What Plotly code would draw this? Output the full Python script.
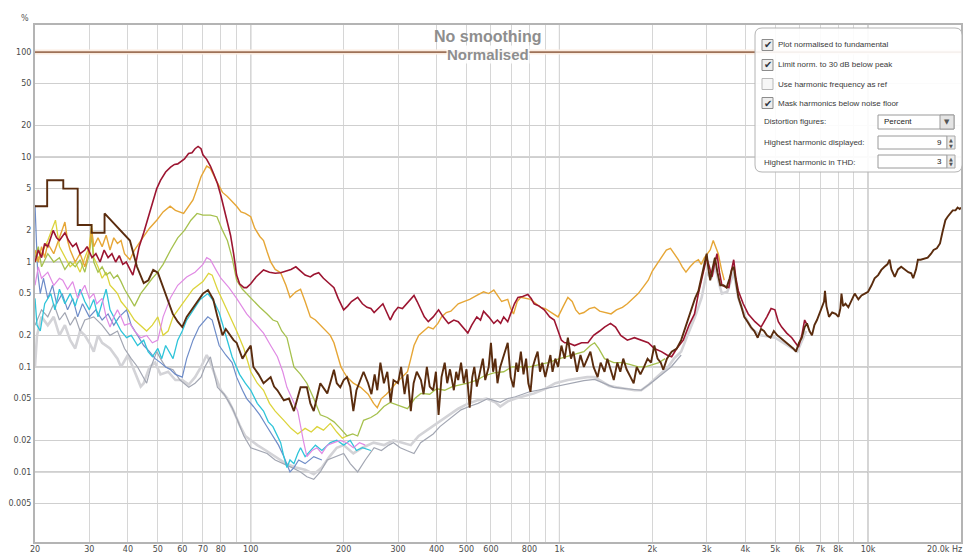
import math
import plotly.graph_objects as go

# ---------------- data (frequency Hz, distortion %) ----------------
fundamental = [(20, 100), (20000, 100)]

thd = [(20, 3.4), (21.9, 3.4), (21.9, 6.0), (24.7, 6.0), (24.7, 5.0), (27.5, 5.0), (27.5, 2.25), (30.5, 2.25),
       (30.5, 1.9), (33.6, 1.9), (33.6, 2.9), (36.9, 2.15), (40.6, 1.6), (42.8, 0.9), (45, 0.63), (46.6, 0.67),
       (48.3, 0.84), (50, 0.79), (51.4, 0.63), (53.5, 0.46), (55.9, 0.32), (58, 0.27), (60, 0.24), (62, 0.3),
       (65, 0.37), (68, 0.45), (70, 0.5), (72.7, 0.54), (75.6, 0.44), (78, 0.3), (81, 0.2), (83, 0.23),
       (85, 0.21), (88, 0.18), (90, 0.17), (94, 0.12), (97, 0.14), (100, 0.16), (102, 0.1), (106, 0.085),
       (110, 0.07), (116, 0.08), (119, 0.065), (122, 0.06), (128, 0.048), (133, 0.05), (138, 0.038),
       (145, 0.064), (152, 0.064), (156, 0.045), (160, 0.038), (168, 0.07), (177, 0.056), (186, 0.094),
       (190, 0.07), (195, 0.064), (200, 0.075), (205, 0.08), (210, 0.065), (215, 0.038), (220, 0.06),
       (227, 0.075), (232, 0.09), (240, 0.07), (246, 0.055), (252, 0.085), (257, 0.06), (263, 0.11),
       (270, 0.07), (277, 0.09), (284, 0.046), (290, 0.075), (300, 0.07), (307, 0.1), (315, 0.055),
       (322, 0.085), (330, 0.038), (337, 0.07), (345, 0.09), (356, 0.075), (363, 0.055), (372, 0.1),
       (380, 0.065), (390, 0.06), (398, 0.09), (406, 0.035), (415, 0.08), (425, 0.11), (433, 0.07),
       (442, 0.095), (455, 0.06), (463, 0.09), (470, 0.075), (480, 0.11), (490, 0.07), (500, 0.095),
       (512, 0.041), (522, 0.08), (530, 0.1), (540, 0.065), (555, 0.094), (565, 0.12), (575, 0.075),
       (590, 0.1), (600, 0.17), (610, 0.09), (620, 0.12), (630, 0.07), (643, 0.1), (660, 0.13), (680, 0.17),
       (695, 0.08), (710, 0.064), (725, 0.11), (735, 0.09), (750, 0.14), (765, 0.085), (780, 0.12),
       (793, 0.07), (806, 0.058), (820, 0.1), (835, 0.12), (850, 0.14), (865, 0.09), (880, 0.11), (900, 0.08),
       (915, 0.1), (935, 0.13), (950, 0.09), (970, 0.12), (990, 0.1), (1015, 0.16), (1040, 0.12),
       (1065, 0.19), (1090, 0.12), (1110, 0.14), (1140, 0.09), (1170, 0.13), (1200, 0.1), (1230, 0.12),
       (1260, 0.14), (1290, 0.1), (1330, 0.08), (1360, 0.11), (1400, 0.09), (1430, 0.12), (1460, 0.1),
       (1500, 0.075), (1540, 0.11), (1575, 0.09), (1610, 0.12), (1650, 0.095), (1700, 0.08), (1740, 0.07),
       (1780, 0.1), (1830, 0.085), (1880, 0.1), (1930, 0.12), (1980, 0.11), (2030, 0.16), (2080, 0.12),
       (2130, 0.11), (2170, 0.094), (2230, 0.12), (2310, 0.14), (2400, 0.15), (2480, 0.18), (2570, 0.25),
       (2670, 0.35), (2750, 0.45), (2820, 0.53), (2880, 0.7), (2930, 0.84), (2970, 1.0), (3000, 1.2),
       (3040, 0.85), (3080, 0.67), (3130, 0.85), (3190, 1.1), (3250, 0.8), (3320, 0.6), (3400, 0.6),
       (3480, 0.57), (3560, 0.7), (3620, 0.85), (3670, 0.9), (3730, 0.65), (3800, 0.46), (3880, 0.38),
       (3970, 0.3), (4070, 0.27), (4170, 0.24), (4280, 0.22), (4390, 0.19), (4500, 0.23), (4600, 0.22),
       (4700, 0.2), (4830, 0.19), (4950, 0.22), (5080, 0.2), (5200, 0.19), (5320, 0.18), (5460, 0.17),
       (5600, 0.16), (5720, 0.15), (5840, 0.14), (5970, 0.17), (6100, 0.19), (6230, 0.24), (6340, 0.26),
       (6460, 0.22), (6580, 0.2), (6700, 0.25), (6830, 0.28), (6950, 0.32), (7080, 0.37), (7200, 0.42),
       (7250, 0.53), (7330, 0.38), (7470, 0.3), (7650, 0.33), (7850, 0.32), (8020, 0.3), (8130, 0.36),
       (8200, 0.5), (8300, 0.38), (8450, 0.4), (8630, 0.37), (8800, 0.42), (9050, 0.5), (9300, 0.44),
       (9520, 0.48), (9760, 0.5), (10000, 0.52), (10260, 0.6), (10500, 0.7), (10780, 0.75), (11040, 0.84),
       (11300, 0.9), (11550, 0.95), (11740, 1.05), (11900, 0.85), (12200, 0.72), (12500, 0.85), (12800, 0.9),
       (13150, 0.84), (13500, 0.8), (13800, 0.78), (14000, 0.7), (14300, 0.85), (14500, 1.05), (14800, 1.05),
       (15200, 1.08), (15600, 1.1), (16000, 1.2), (16300, 1.3), (16700, 1.35), (17100, 1.5), (17400, 1.9),
       (17800, 2.5), (18100, 2.7), (18400, 2.9), (18800, 3.1), (19200, 3.1), (19500, 3.3), (19800, 3.2),
       (20000, 3.3)]

h2 = [(20, 1.0), (20.5, 1.3), (21, 1.1), (21.5, 1.5), (22, 1.4), (22.9, 2.0), (23.5, 1.7), (24, 1.6), (25, 1.9),
      (25.7, 1.6), (26.5, 1.4), (27.2, 1.5), (28, 1.2), (29, 1.3), (29.5, 1.4), (30.6, 1.1), (31.5, 1.2),
      (32.5, 1.0), (33.5, 1.3), (34.5, 1.1), (35.5, 1.2), (36.5, 1.0), (37.5, 1.15), (38.5, 0.95), (39.5, 1.0),
      (40.5, 0.85), (41.5, 0.75), (42.5, 1.0), (43.5, 1.4), (45, 1.9), (47, 3.0), (49.6, 5.0), (51, 6.0),
      (53, 7.2), (55, 8.0), (56.6, 8.5), (58, 8.6), (59.7, 9.2), (61, 9.6), (62.9, 10.8), (64.5, 11.0),
      (66, 12.0), (67.5, 12.6), (69, 12.0), (70, 10.5), (72, 9.5), (74, 8.2), (75.7, 7.0), (78, 5.6),
      (80, 4.3), (82, 3.2), (84, 2.4), (86, 1.8), (88, 1.2), (90, 0.75), (92, 0.62), (95, 0.57), (97, 0.57),
      (100, 0.62), (104, 0.72), (108, 0.8), (110, 0.84), (115, 0.8), (120, 0.78), (125, 0.79), (130, 0.82),
      (135, 0.85), (140, 0.9), (145, 0.82), (150, 0.75), (156, 0.72), (160, 0.76), (166, 0.79), (172, 0.7),
      (180, 0.62), (186, 0.57), (192, 0.45), (200, 0.35), (206, 0.38), (212, 0.42), (222, 0.46), (230, 0.4),
      (238, 0.37), (245, 0.36), (251, 0.33), (260, 0.37), (268, 0.4), (276, 0.33), (283, 0.28), (291, 0.33),
      (300, 0.37), (310, 0.36), (320, 0.4), (330, 0.44), (338, 0.48), (346, 0.42), (355, 0.36), (365, 0.3),
      (376, 0.27), (390, 0.3), (406, 0.35), (420, 0.3), (437, 0.26), (455, 0.28), (470, 0.27), (487, 0.24),
      (505, 0.21), (520, 0.25), (540, 0.3), (555, 0.28), (568, 0.34), (590, 0.3), (613, 0.26), (630, 0.28),
      (645, 0.26), (660, 0.3), (680, 0.27), (700, 0.34), (715, 0.4), (734, 0.46), (760, 0.47), (790, 0.49),
      (810, 0.45), (828, 0.4), (860, 0.38), (893, 0.35), (930, 0.3), (962, 0.28), (990, 0.22), (1015, 0.18),
      (1040, 0.17), (1065, 0.17), (1120, 0.16), (1180, 0.17), (1237, 0.17), (1290, 0.2), (1350, 0.22),
      (1400, 0.24), (1464, 0.26), (1520, 0.24), (1580, 0.2), (1660, 0.18), (1750, 0.19), (1840, 0.18),
      (1940, 0.17), (2030, 0.15), (2140, 0.14), (2230, 0.13), (2310, 0.125), (2400, 0.15), (2520, 0.18),
      (2630, 0.25), (2740, 0.32), (2820, 0.5), (2890, 0.67), (2950, 0.9), (3000, 1.1), (3060, 0.9),
      (3120, 0.72), (3180, 0.95), (3240, 1.2), (3300, 0.8), (3360, 0.6), (3450, 0.58), (3540, 0.57),
      (3600, 0.8), (3670, 1.05), (3730, 0.7), (3800, 0.53), (3940, 0.4), (4090, 0.32), (4300, 0.27),
      (4500, 0.24), (4700, 0.3), (4850, 0.36), (4990, 0.35), (5120, 0.27), (5250, 0.24), (5450, 0.21),
      (5660, 0.19), (5950, 0.155), (6100, 0.2), (6230, 0.28), (6400, 0.24)]

h3 = [(20, 1.3), (20.5, 1.0), (21, 1.4), (21.5, 1.1), (22, 1.5), (23, 1.2), (24, 1.7), (25, 2.4), (25.5, 1.6),
      (26, 1.3), (27, 1.0), (28, 1.2), (29, 0.9), (30, 1.3), (30.5, 2.1), (31, 1.4), (32, 1.7), (33, 1.4),
      (34, 1.8), (35, 1.3), (36, 1.7), (37, 1.5), (38, 1.6), (39, 1.2), (40.6, 1.05), (42, 1.3), (45, 1.75),
      (47, 2.1), (49.6, 2.5), (52, 3.0), (54.8, 3.4), (57, 3.1), (60.6, 2.9), (63, 3.4), (65, 3.9), (67, 5.0),
      (69, 6.5), (72, 8.2), (74, 7.8), (77.7, 5.8), (81, 4.6), (84, 4.2), (87, 3.8), (90, 3.4), (93, 3.0),
      (96, 2.9), (100, 2.7), (103, 2.1), (107, 1.75), (110, 1.6), (113, 1.25), (116, 1.0), (120, 0.85),
      (125, 0.79), (130, 0.6), (134, 0.46), (140, 0.52), (145, 0.55), (150, 0.42), (156, 0.3), (162, 0.28),
      (168, 0.25), (175, 0.22), (181, 0.2), (186, 0.17), (190, 0.14), (196, 0.1), (200, 0.09), (205, 0.08),
      (215, 0.07), (227, 0.064), (240, 0.055), (250, 0.045), (257, 0.041), (265, 0.05), (275, 0.055),
      (283, 0.06), (295, 0.07), (310, 0.08), (322, 0.09), (330, 0.12), (338, 0.16), (350, 0.2), (365, 0.22),
      (376, 0.24), (390, 0.23), (404, 0.26), (415, 0.3), (430, 0.33), (445, 0.34), (458, 0.37), (470, 0.4),
      (490, 0.42), (512, 0.44), (540, 0.48), (568, 0.52), (590, 0.5), (613, 0.54), (630, 0.48), (650, 0.42),
      (680, 0.44), (695, 0.36), (710, 0.32), (730, 0.42), (750, 0.46), (780, 0.45), (806, 0.44), (840, 0.4),
      (870, 0.37), (900, 0.36), (940, 0.33), (990, 0.3), (1030, 0.38), (1065, 0.46), (1100, 0.42),
      (1130, 0.35), (1160, 0.32), (1200, 0.33), (1250, 0.36), (1300, 0.37), (1350, 0.34), (1400, 0.33),
      (1470, 0.32), (1530, 0.35), (1600, 0.37), (1660, 0.4), (1730, 0.45), (1800, 0.5), (1870, 0.58),
      (1940, 0.67), (2000, 0.82), (2070, 0.95), (2140, 1.1), (2220, 1.3), (2290, 1.35), (2360, 1.2),
      (2430, 1.05), (2500, 0.9), (2570, 0.8), (2650, 0.9), (2740, 1.0), (2820, 1.05), (2880, 0.95),
      (2950, 1.1), (3020, 1.2), (3080, 1.3), (3150, 1.6), (3210, 1.4), (3270, 1.2), (3350, 0.85), (3420, 0.67)]

h4 = [(20, 1.1), (20.5, 1.4), (21, 0.9), (22, 1.2), (23, 1.0), (24, 1.1), (25, 0.85), (26, 1.0), (27, 0.9),
      (28, 1.05), (29, 0.8), (30, 1.2), (30.5, 1.8), (31, 1.0), (32, 0.8), (33, 0.9), (34, 0.75), (35, 0.8),
      (36, 0.7), (37, 0.75), (38, 0.65), (39, 0.55), (40.6, 0.45), (42, 0.38), (44, 0.5), (46, 0.6), (48, 0.7),
      (50, 0.8), (52, 0.95), (55, 1.3), (58, 1.7), (61, 2.0), (64, 2.5), (67, 2.9), (70, 2.8), (74, 2.8),
      (77.7, 2.7), (81, 2.0), (84, 1.6), (87, 1.1), (90, 0.67), (94, 0.55), (97, 0.5), (102, 0.42),
      (107, 0.37), (113, 0.32), (118, 0.28), (122, 0.27), (126, 0.22), (131, 0.19), (134, 0.14), (138, 0.1),
      (145, 0.085), (152, 0.07), (160, 0.05), (168, 0.035), (177, 0.033), (186, 0.03), (195, 0.026),
      (205, 0.022), (214, 0.023), (222, 0.022), (232, 0.031), (245, 0.033), (257, 0.036), (270, 0.042),
      (283, 0.046), (300, 0.043), (322, 0.04), (340, 0.05), (356, 0.056), (380, 0.055), (400, 0.062),
      (425, 0.06), (450, 0.065), (480, 0.068), (505, 0.07), (540, 0.075), (570, 0.082), (613, 0.088),
      (660, 0.09), (700, 0.1), (750, 0.1), (800, 0.1), (860, 0.105), (920, 0.11), (1000, 0.12), (1100, 0.13),
      (1200, 0.14), (1260, 0.16), (1300, 0.17), (1340, 0.15), (1400, 0.12), (1500, 0.11), (1600, 0.11),
      (1700, 0.105), (1800, 0.1), (1900, 0.1), (2000, 0.105), (2100, 0.11), (2200, 0.12)]

h5 = [(20, 0.6), (20.5, 0.9), (21, 0.7), (22, 0.8), (23, 0.6), (24, 0.7), (24.6, 0.67), (25.5, 0.55),
      (26.5, 0.65), (27.5, 0.45), (28, 0.5), (29, 0.6), (30, 0.45), (31, 0.5), (31.7, 0.4), (33, 0.45),
      (34, 0.3), (35, 0.24), (36, 0.3), (37, 0.35), (38, 0.3), (39, 0.25), (40.6, 0.26), (42, 0.22),
      (44, 0.19), (46, 0.2), (48, 0.17), (50, 0.18), (52, 0.3), (55, 0.46), (58, 0.6), (62, 0.72), (66, 0.8),
      (70, 0.95), (72, 1.1), (74, 1.05), (77, 0.85), (80, 0.7), (85, 0.57), (90, 0.45), (97, 0.32),
      (103, 0.26), (110, 0.21), (116, 0.16), (122, 0.125), (127, 0.09), (131, 0.064), (136, 0.05),
      (142, 0.038), (148, 0.02), (152, 0.014), (158, 0.016), (164, 0.017), (170, 0.015), (177, 0.018),
      (186, 0.019), (195, 0.02), (205, 0.019), (215, 0.017), (225, 0.019), (235, 0.018)]

h6 = [(20, 1.0), (21, 1.2), (22, 1.6), (23.3, 2.5), (24, 1.4), (25, 1.1), (26, 0.9), (27, 1.0), (28, 0.8),
      (29, 1.1), (30, 1.4), (30.5, 2.3), (31, 1.1), (32, 0.9), (33, 0.7), (34, 0.8), (35, 0.6), (36, 0.55),
      (37, 0.5), (38, 0.42), (40, 0.35), (42, 0.28), (44, 0.25), (46, 0.22), (48, 0.25), (50, 0.3), (52, 0.2),
      (54, 0.22), (56, 0.3), (60, 0.4), (65, 0.55), (70, 0.65), (73, 0.78), (75, 0.75), (78, 0.55), (82, 0.4),
      (86, 0.3), (90, 0.22), (95, 0.15), (100, 0.09), (105, 0.07), (110, 0.06), (115, 0.045), (120, 0.038),
      (128, 0.031), (135, 0.026), (142, 0.023), (150, 0.026), (157, 0.024), (164, 0.027), (172, 0.025),
      (181, 0.029), (190, 0.024), (198, 0.021), (205, 0.022)]

h7 = [(20, 0.45), (20.3, 0.25), (20.8, 0.22), (21.5, 0.4), (22.5, 0.5), (23.2, 0.35), (24, 0.55), (25, 0.4),
      (26, 0.5), (27, 0.38), (28, 0.55), (29, 0.42), (30, 0.35), (31, 0.44), (32, 0.3), (33, 0.4), (34, 0.55),
      (35, 0.35), (36, 0.3), (37, 0.25), (38, 0.22), (39.6, 0.19), (41, 0.2), (43, 0.16), (45, 0.18),
      (46.5, 0.14), (48, 0.125), (50, 0.15), (51.5, 0.12), (53, 0.16), (55, 0.13), (56, 0.12), (58, 0.18),
      (60, 0.22), (62, 0.28), (65, 0.35), (68.6, 0.44), (72.6, 0.5), (76, 0.42), (79, 0.33), (83, 0.2),
      (87, 0.125), (92, 0.085), (96, 0.07), (100, 0.06), (105, 0.045), (110, 0.038), (114, 0.03),
      (118, 0.027), (122, 0.022), (125, 0.019), (128, 0.014), (131, 0.011), (134, 0.013), (138, 0.012),
      (142, 0.015), (145, 0.017), (150, 0.014), (156, 0.016), (162, 0.018), (170, 0.016), (181, 0.019),
      (190, 0.02), (200, 0.018), (210, 0.02), (220, 0.016), (230, 0.017), (245, 0.016)]

h8 = [(20, 3.5), (20.2, 1.5), (20.4, 0.8), (20.8, 0.5), (21.3, 0.7), (22, 0.45), (22.8, 0.6), (23.5, 0.4),
      (24.5, 0.5), (25.5, 0.35), (26.5, 0.45), (27.5, 0.3), (28.5, 0.4), (30, 0.3), (31.5, 0.35), (33, 0.28),
      (34.5, 0.32), (36, 0.25), (37.5, 0.3), (39.6, 0.35), (41, 0.25), (43, 0.2), (45, 0.16), (47, 0.14),
      (49, 0.12), (51, 0.11), (53, 0.1), (55, 0.094), (57, 0.085), (60, 0.08), (62, 0.12), (65, 0.18),
      (68, 0.24), (72.6, 0.3), (75, 0.28), (79, 0.16), (83, 0.13), (87, 0.11), (90, 0.08), (94, 0.06),
      (97, 0.05), (102, 0.042), (107, 0.035), (112, 0.028), (118, 0.022), (123, 0.018), (128, 0.014),
      (131, 0.012), (134, 0.01), (138, 0.011), (143, 0.013), (150, 0.012), (160, 0.014), (170, 0.013)]

h9 = [(20, 0.25), (21, 0.35), (22, 0.3), (23, 0.4), (24, 0.28), (25, 0.33), (26, 0.25), (27, 0.3), (28, 0.22),
      (29, 0.28), (31, 0.3), (33, 0.25), (35, 0.2), (37, 0.22), (39, 0.15), (41, 0.12), (43, 0.1), (45, 0.08),
      (46, 0.07), (47.5, 0.1), (49.6, 0.14), (51, 0.12), (53, 0.1), (56, 0.094), (59, 0.075), (63, 0.064),
      (66, 0.07), (69, 0.08), (71, 0.1), (74, 0.125), (76, 0.09), (78, 0.064), (82, 0.055), (87, 0.041),
      (91, 0.03), (95, 0.022), (100, 0.017), (106, 0.016), (113, 0.015), (120, 0.013), (128, 0.012),
      (136, 0.011), (145, 0.01), (152, 0.009), (160, 0.0085), (168, 0.01), (177, 0.013), (188, 0.014),
      (200, 0.015), (210, 0.012), (222, 0.01), (235, 0.013), (251, 0.017), (265, 0.016), (280, 0.018),
      (290, 0.019), (305, 0.017), (320, 0.016), (338, 0.015), (355, 0.019), (372, 0.021), (390, 0.023),
      (410, 0.027), (430, 0.03), (455, 0.034), (480, 0.039), (510, 0.042), (545, 0.045), (587, 0.05),
      (620, 0.048), (643, 0.046), (680, 0.05), (720, 0.052), (760, 0.055), (800, 0.058), (850, 0.06),
      (900, 0.062), (950, 0.065), (1000, 0.066), (1100, 0.07), (1200, 0.074), (1300, 0.076), (1400, 0.07),
      (1500, 0.064), (1650, 0.062), (1840, 0.06), (2000, 0.072), (2140, 0.085), (2300, 0.1), (2480, 0.13)]

noise = [(20, 0.1), (20.3, 0.2), (21, 0.3), (22, 0.25), (23, 0.3), (24, 0.2), (25, 0.25), (26, 0.18),
         (27, 0.15), (28, 0.22), (29, 0.2), (30, 0.17), (31, 0.14), (32, 0.2), (33, 0.17), (35, 0.15),
         (37, 0.12), (38, 0.1), (40, 0.13), (42, 0.09), (44, 0.065), (45, 0.07), (47, 0.1), (49, 0.11),
         (51, 0.085), (54, 0.09), (57, 0.075), (60, 0.075), (63, 0.068), (66, 0.08), (69, 0.1), (72, 0.13),
         (74, 0.11), (77, 0.08), (80, 0.06), (84, 0.05), (88, 0.038), (92, 0.028), (96, 0.022), (100, 0.02),
         (105, 0.018), (112, 0.016), (120, 0.014), (130, 0.012), (140, 0.011), (150, 0.0105), (160, 0.0095),
         (170, 0.011), (180, 0.014), (190, 0.017), (200, 0.018), (215, 0.015), (230, 0.017), (250, 0.019),
         (270, 0.018), (290, 0.02), (310, 0.019), (330, 0.018), (350, 0.022), (380, 0.026), (410, 0.03),
         (440, 0.035), (470, 0.04), (500, 0.044), (540, 0.048), (580, 0.05), (620, 0.046), (643, 0.042),
         (680, 0.047), (720, 0.05), (770, 0.053), (828, 0.056), (900, 0.062), (970, 0.07), (1065, 0.075),
         (1150, 0.078), (1230, 0.08), (1300, 0.08), (1380, 0.072), (1450, 0.066), (1530, 0.064),
         (1650, 0.062), (1750, 0.06), (1840, 0.06), (1950, 0.068), (2050, 0.078), (2140, 0.088), (2250, 0.1),
         (2350, 0.12), (2480, 0.14), (2600, 0.2), (2750, 0.3), (2890, 0.46), (3000, 0.8), (3100, 0.7),
         (3200, 0.9), (3300, 0.6), (3360, 0.5), (3500, 0.52), (3670, 0.8), (3800, 0.45), (4000, 0.3),
         (4200, 0.23), (4500, 0.2), (5000, 0.19), (5500, 0.16), (5900, 0.14), (6300, 0.22)]

x_ticks = [20, 30, 40, 50, 60, 70, 80, 100, 200, 300, 400, 500, 600, 800,
           1000, 2000, 3000, 4000, 5000, 6000, 7000, 8000, 10000, 20000]
x_labels = ["20", "30", "40", "50", "60", "70", "80", "100", "200", "300", "400", "500", "600", "800",
            "1k", "2k", "3k", "4k", "5k", "6k", "7k", "8k", "10k", ""]
x_last_label = "20.0k Hz"
x_minor = [90, 700, 900, 9000]
x_decades = [100, 1000, 10000]
y_ticks = [100, 50, 20, 10, 5, 2, 1, 0.5, 0.2, 0.1, 0.05, 0.02, 0.01, 0.005]
y_labels = ["100", "50", "20", "10", "5", "2", "1", "0.5", "0.2", "0.1", "0.05", "0.02", "0.01", "0.005"]
y_decades = [10, 1, 0.1, 0.01]

panel_checks = [("Plot normalised to fundamental", True),
                ("Limit norm. to 30 dB below peak", True),
                ("Use harmonic frequency as ref", False),
                ("Mask harmonics below noise floor", True)]

# ---------------- layout geometry (page pixels) ----------------
PAGE_W, PAGE_H = 972, 555
OFF = 8                      # default body margin of the html page
W, H = PAGE_W - OFF, PAGE_H - OFF
L, R, T, B = 35, 961, 25, 542   # plot area in page pixels


def px(x):
    return (x - L) / (R - L)


def py(y):
    return (B - y) / (B - T)


fig = go.Figure()

series = [
    (noise, "#d3d3d7", 2.6),
    (h9, "#a2a6b2", 1.2),
    (h8, "#6e8cc8", 1.2),
    (h7, "#2ec4d9", 1.3),
    (h6, "#dcd43c", 1.3),
    (h5, "#e08ae4", 1.2),
    (h4, "#a6c14e", 1.3),
    (h3, "#e6a636", 1.4),
    (h2, "#9c1531", 1.6),
    (thd, "#5a2c0e", 1.9),
]

fig.add_trace(go.Scatter(x=[p[0] for p in fundamental], y=[p[1] for p in fundamental], mode="lines",
                         line=dict(color="#fbece0", width=5), hoverinfo="skip", showlegend=False))
for data, col, w in series:
    fig.add_trace(go.Scatter(x=[p[0] for p in data], y=[p[1] for p in data], mode="lines",
                             line=dict(color=col, width=w), showlegend=False))
fig.add_trace(go.Scatter(x=[p[0] for p in fundamental], y=[p[1] for p in fundamental], mode="lines",
                         line=dict(color="#9e7258", width=1.8), showlegend=False))

shapes = []
for d in x_decades:
    shapes.append(dict(type="line", xref="x", yref="paper", x0=d, x1=d, y0=0, y1=1,
                       line=dict(color="#9c9c9c", width=1), layer="below"))
for d in y_decades:
    shapes.append(dict(type="line", xref="paper", yref="y", x0=0, x1=1, y0=d, y1=d,
                       line=dict(color="#a4a4a4", width=1), layer="below"))


def rounded(x0, y0, x1, y1, r):
    pts = [
        f"M {px(x0 + r)},{py(y0)}", f"L {px(x1 - r)},{py(y0)}", f"Q {px(x1)},{py(y0)} {px(x1)},{py(y0 + r)}",
        f"L {px(x1)},{py(y1 - r)}", f"Q {px(x1)},{py(y1)} {px(x1 - r)},{py(y1)}",
        f"L {px(x0 + r)},{py(y1)}", f"Q {px(x0)},{py(y1)} {px(x0)},{py(y1 - r)}",
        f"L {px(x0)},{py(y0 + r)}", f"Q {px(x0)},{py(y0)} {px(x0 + r)},{py(y0)}", "Z"]
    return " ".join(pts)


# control panel
shapes.append(dict(type="path", xref="paper", yref="paper", path=rounded(755, 28, 962, 172, 7),
                   line=dict(color="#b4b4b4", width=1), fillcolor="rgba(255,255,255,0.9)", layer="above"))

annotations = []
row_y = [45, 65, 84, 103]
for (label, checked), yy in zip(panel_checks, row_y):
    shapes.append(dict(type="rect", xref="paper", yref="paper", x0=px(762), x1=px(773),
                       y0=py(yy + 5.5), y1=py(yy - 5.5),
                       line=dict(color="#8c8c8c" if checked else "#b8b8b8", width=1),
                       fillcolor="#eeeeee" if checked else "#f6f6f6", layer="above"))
    if checked:
        annotations.append(dict(xref="paper", yref="paper", x=px(768), y=py(yy), text="✔", showarrow=False,
                                font=dict(family="DejaVu Sans", size=10, color="#2c3440"),
                                xanchor="center", yanchor="middle"))
    annotations.append(dict(xref="paper", yref="paper", x=px(776), y=py(yy), text=label, showarrow=False,
                            font=dict(family="Liberation Sans", size=8, color="#3a3a3a"),
                            xanchor="left", yanchor="middle"))

for label, yy in [("Distortion figures:", 122), ("Highest harmonic displayed:", 142),
                  ("Highest harmonic in THD:", 162)]:
    annotations.append(dict(xref="paper", yref="paper", x=px(762), y=py(yy), text=label, showarrow=False,
                            font=dict(family="Liberation Sans", size=8, color="#3a3a3a"),
                            xanchor="left", yanchor="middle"))

# dropdown
shapes.append(dict(type="rect", xref="paper", yref="paper", x0=px(878), x1=px(954), y0=py(129), y1=py(115),
                   line=dict(color="#9a9a9a", width=1), fillcolor="white", layer="above"))
shapes.append(dict(type="rect", xref="paper", yref="paper", x0=px(940), x1=px(954), y0=py(129), y1=py(115),
                   line=dict(color="#9a9a9a", width=1), fillcolor="#e4e4e4", layer="above"))
annotations.append(dict(xref="paper", yref="paper", x=px(882), y=py(122), text="Percent", showarrow=False,
                        font=dict(family="Liberation Sans", size=8, color="#222"),
                        xanchor="left", yanchor="middle"))
annotations.append(dict(xref="paper", yref="paper", x=px(947), y=py(122), text="▼", showarrow=False,
                        font=dict(family="DejaVu Sans", size=7, color="#555"),
                        xanchor="center", yanchor="middle"))
# spin boxes
for val, y0, y1 in [("9", 136, 149), ("3", 155, 168)]:
    shapes.append(dict(type="rect", xref="paper", yref="paper", x0=px(878), x1=px(947), y0=py(y1), y1=py(y0),
                       line=dict(color="#9a9a9a", width=1), fillcolor="white", layer="above"))
    shapes.append(dict(type="rect", xref="paper", yref="paper", x0=px(947), x1=px(955), y0=py(y1), y1=py(y0),
                       line=dict(color="#a8a8a8", width=1), fillcolor="#ececec", layer="above"))
    annotations.append(dict(xref="paper", yref="paper", x=px(944), y=py((y0 + y1) / 2), text=val,
                            showarrow=False, font=dict(family="Liberation Sans", size=8, color="#222"),
                            xanchor="right", yanchor="middle"))
    annotations.append(dict(xref="paper", yref="paper", x=px(951), y=py(y0 + 3.5), text="▲", showarrow=False,
                            font=dict(family="DejaVu Sans", size=5, color="#555"),
                            xanchor="center", yanchor="middle"))
    annotations.append(dict(xref="paper", yref="paper", x=px(951), y=py(y1 - 3.5), text="▼", showarrow=False,
                            font=dict(family="DejaVu Sans", size=5, color="#555"),
                            xanchor="center", yanchor="middle"))

# titles
annotations.append(dict(xref="paper", yref="paper", x=px(488), y=py(37), text="<b>No smoothing</b>",
                        showarrow=False, font=dict(family="Liberation Sans", size=16, color="#8e8e8e"),
                        xanchor="center", yanchor="middle"))
annotations.append(dict(xref="paper", yref="paper", x=px(488), y=py(55), text="<b>Normalised</b>",
                        showarrow=False, font=dict(family="Liberation Sans", size=15, color="#8e8e8e"),
                        xanchor="center", yanchor="middle", bgcolor="rgba(255,255,255,0.9)", borderpad=0))
annotations.append(dict(xref="paper", yref="paper", x=px(25), y=py(18), text="%", showarrow=False,
                        font=dict(family="DejaVu Sans", size=8, color="#555"),
                        xanchor="center", yanchor="middle"))
# last x label, kept inside the window
annotations.append(dict(xref="paper", yref="paper", x=px(963), y=py(549), text=x_last_label, showarrow=False,
                        font=dict(family="DejaVu Sans", size=8, color="#4a4a4a"),
                        xanchor="right", yanchor="middle", borderpad=0))

fig.update_layout(
    width=W, height=H, margin=dict(l=L - OFF, r=PAGE_W - R, t=T - OFF, b=PAGE_H - B),
    paper_bgcolor="white", plot_bgcolor="white", showlegend=False,
    shapes=shapes, annotations=annotations,
    xaxis=dict(type="log", range=[math.log10(20), math.log10(20000)], tickmode="array",
               tickvals=x_ticks, ticktext=x_labels, showgrid=True, gridcolor="#d6d6d6", gridwidth=1,
               minor=dict(tickmode="array", tickvals=x_minor, showgrid=True, gridcolor="#d6d6d6", ticks=""),
               ticks="", showline=True, linecolor="#b4b4b4", linewidth=2, mirror=True, zeroline=False,
               ticklabelstandoff=-2,
               tickfont=dict(family="DejaVu Sans", size=8, color="#4a4a4a"), automargin=False),
    yaxis=dict(type="log", range=[math.log10(0.00215), math.log10(181)], tickmode="array",
               tickvals=y_ticks, ticktext=y_labels, showgrid=True, gridcolor="#cfcfcf", gridwidth=1,
               ticks="", showline=True, linecolor="#b4b4b4", linewidth=2, mirror=True, zeroline=False,
               tickfont=dict(family="DejaVu Sans", size=8, color="#4a4a4a"), automargin=False),
)

fig.write_html("out.html")
